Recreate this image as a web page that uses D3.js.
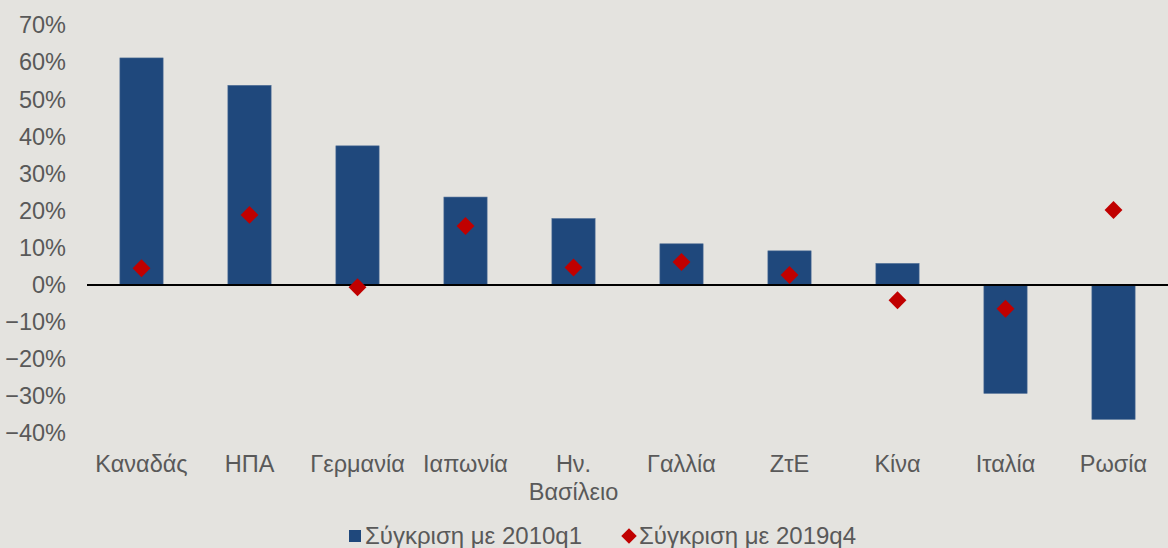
<!DOCTYPE html>
<html>
<head>
<meta charset="utf-8">
<script src="https://cdn.jsdelivr.net/npm/d3@7"></script>
<style>
  body { margin: 0; background: #e4e3df; }
  svg { display: block; }
  text { font-family: "Liberation Sans", Arial, sans-serif; fill: #595959; }
</style>
</head>
<body>
<svg id="chart" width="1168" height="548"></svg>
<script>
// categories and values
var countries = ["Καναδάς", "ΗΠΑ", "Γερμανία", "Ιαπωνία", "Ην.|Βασίλειο", "Γαλλία", "ΖτΕ", "Κίνα", "Ιταλία", "Ρωσία"];
var vs2010q1 = [0.612, 0.538, 0.375, 0.237, 0.179, 0.111, 0.092, 0.058, -0.292, -0.362];
var vs2019q4 = [0.045, 0.189, -0.006, 0.159, 0.047, 0.062, 0.027, -0.041, -0.064, 0.202];
var yTicks = [-0.4, -0.3, -0.2, -0.1, 0, 0.1, 0.2, 0.3, 0.4, 0.5, 0.6, 0.7];
var legendLabels = ["Σύγκριση με 2010q1", "Σύγκριση με 2019q4"];

var barColor = "#1f487c";
var dotColor = "#c00000";

var svg = d3.select("#chart");

var x = d3.scaleBand()
    .domain(countries)
    .range([87.5, 1167.5])
    .paddingInner(0.6)
    .paddingOuter(0.3);

var y = d3.scaleLinear()
    .domain([-0.4, 0.7])
    .range([433.4, 25.3]);

// y axis labels only, no axis line
var yAxis = svg.append("g")
    .attr("transform", "translate(66,0)")
    .call(d3.axisLeft(y).tickValues(yTicks).tickSize(0).tickPadding(0)
        .tickFormat(d3.format(".0%")));
yAxis.select(".domain").remove();
yAxis.selectAll("text")
    .style("font-size", "23.5px")
    .attr("fill", "#595959")
    .attr("font-family", null);

// bars
svg.selectAll(".bar")
    .data(countries)
    .enter().append("rect")
    .attr("class", "bar")
    .attr("x", function(d) { return x(d); })
    .attr("width", x.bandwidth())
    .attr("y", function(d, i) { return y(Math.max(0, vs2010q1[i])); })
    .attr("height", function(d, i) { return Math.abs(y(vs2010q1[i]) - y(0)); })
    .style("fill", barColor)
    .style("stroke", "#4a6a93")
    .style("stroke-width", 0.6);

// zero line
svg.append("line")
    .attr("x1", 87).attr("x2", 1168)
    .attr("y1", y(0)).attr("y2", y(0))
    .style("stroke", "#000")
    .style("stroke-width", 2);

// diamonds
var diamond = d3.symbol().type(d3.symbolSquare).size(160);
svg.selectAll(".dot")
    .data(countries)
    .enter().append("path")
    .attr("class", "dot")
    .attr("d", diamond)
    .attr("transform", function(d, i) {
        return "translate(" + (x(d) + x.bandwidth() / 2) + "," + y(vs2019q4[i]) + ") rotate(45)";
    })
    .style("fill", dotColor);

// category labels (| marks a line break)
var labels = svg.selectAll(".cat")
    .data(countries)
    .enter().append("text")
    .attr("class", "cat")
    .attr("text-anchor", "middle")
    .style("font-size", "23.5px")
    .attr("x", function(d) { return x(d) + x.bandwidth() / 2; })
    .attr("y", 472);
labels.each(function(d) {
    var parts = d.split("|");
    var t = d3.select(this);
    parts.forEach(function(p, k) {
        t.append("tspan")
            .attr("x", x(d) + x.bandwidth() / 2)
            .attr("dy", k === 0 ? 0 : 28)
            .text(p);
    });
});

// legend (cut by the bottom edge, as in the original)
var legend = svg.append("g").attr("transform", "translate(0,544)");
legend.append("rect")
    .attr("x", 349).attr("y", -14)
    .attr("width", 12).attr("height", 12)
    .style("fill", barColor);
legend.append("text")
    .attr("x", 365).attr("y", 0)
    .style("font-size", "24px")
    .text(legendLabels[0]);
legend.append("path")
    .attr("d", d3.symbol().type(d3.symbolSquare).size(120))
    .attr("transform", "translate(629,-8) rotate(45)")
    .style("fill", dotColor);
legend.append("text")
    .attr("x", 639).attr("y", 0)
    .style("font-size", "24px")
    .text(legendLabels[1]);
</script>
</body>
</html>
